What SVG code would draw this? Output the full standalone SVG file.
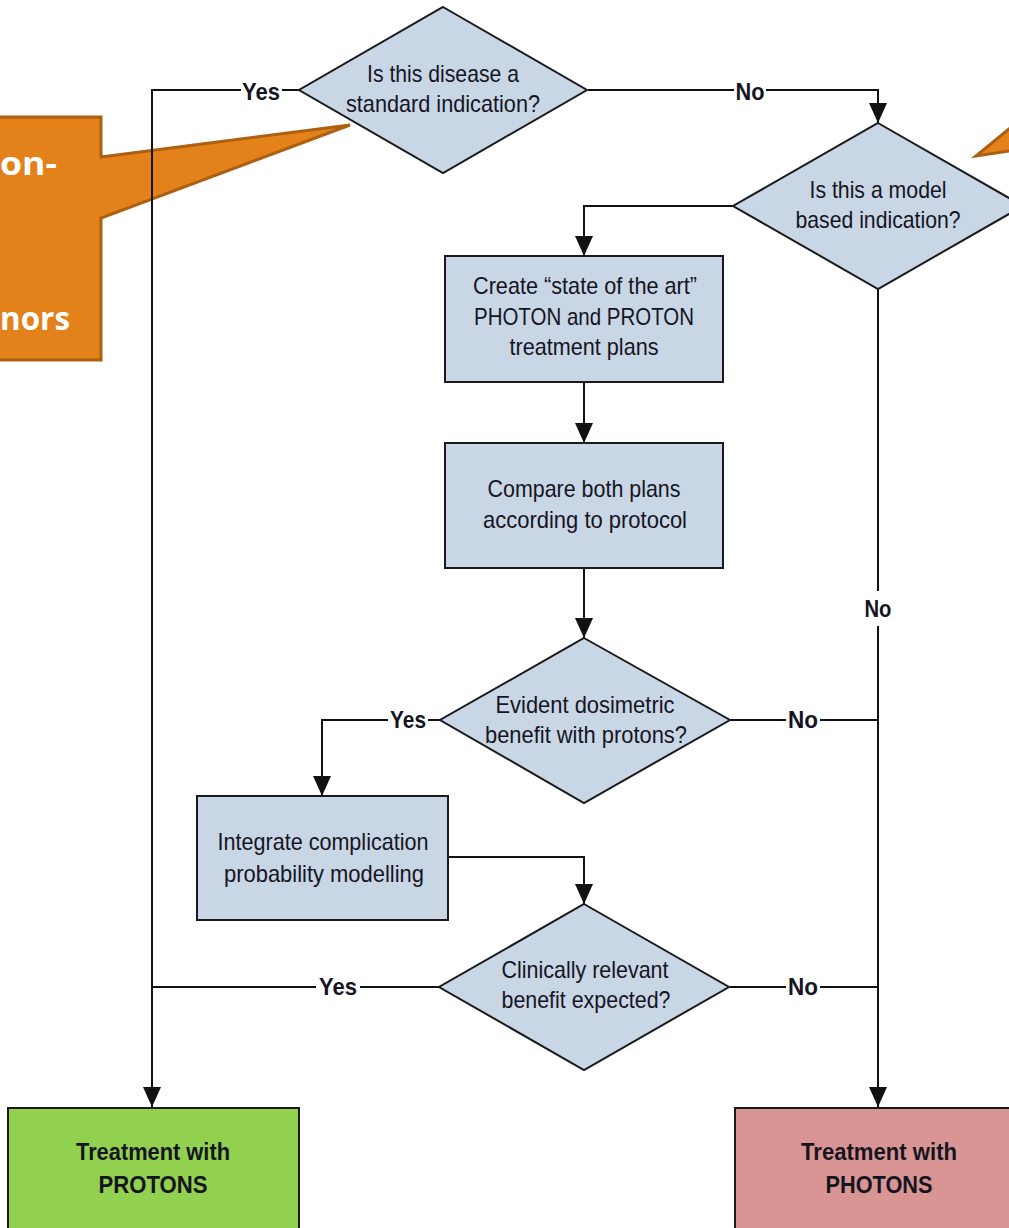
<svg xmlns="http://www.w3.org/2000/svg" width="1009" height="1228" viewBox="0 0 1009 1228">
<defs>
<marker id="arr" markerUnits="userSpaceOnUse" markerWidth="20" markerHeight="20" viewBox="0 0 20 20" refX="20" refY="10" orient="auto">
<path d="M0,1 L20,10 L0,19 z" fill="#111"/>
</marker>
<style>
.shape{fill:#c9d6e6;stroke:#1a1a1a;stroke-width:2}
.t{font-family:"Liberation Sans Narrow","Liberation Sans",Arial,sans-serif;font-size:24px;fill:#15151f;text-anchor:middle}
.b{font-weight:bold}
.line{fill:none;stroke:#111;stroke-width:2}
.arrow{marker-end:url(#arr)}
.lbl{font-family:"Liberation Sans Narrow","Liberation Sans",Arial,sans-serif;font-size:24px;font-weight:bold;fill:#15151f;text-anchor:middle}
.lb{fill:#fff}
.callout{fill:#e3811a;stroke:#ad5f12;stroke-width:3}
.ct{font-family:"Open Sans","Noto Sans",sans-serif;font-weight:bold;font-size:32px;fill:#fff}
</style>
</defs>
<rect width="1009" height="1228" fill="#fff"/>

<g id="callout-left">
<polygon class="callout" points="-5,117 101,117 101,157 350,125 101,218 101,360 -5,360"/>
<text class="ct" x="0" y="175" textLength="57" lengthAdjust="spacingAndGlyphs">on-</text>
<text class="ct" x="0" y="330" textLength="70" lengthAdjust="spacingAndGlyphs">nors</text>
</g>
<g id="callout-right">
<polygon class="callout" points="976,156 1015,124 1015,150"/>
</g>

<g id="connectors">
<path class="line arrow" d="M300,90 H152 V1107"/>
<path class="line arrow" d="M588,90 H878 V123"/>
<path class="line arrow" d="M734,206 H584 V256"/>
<path class="line arrow" d="M584,382 V443"/>
<path class="line arrow" d="M584,568 V638"/>
<path class="line arrow" d="M440,720 H322 V796"/>
<path class="line" d="M730,720 H878"/>
<path class="line arrow" d="M878,289 V1107"/>
<path class="line" d="M440,987 H152"/>
<path class="line" d="M730,987 H878"/>
<path class="line arrow" d="M448,857 H584 V904"/>
<rect class="lb" x="241" y="80" width="41" height="22"/>
<text class="lbl" x="261" y="100" textLength="38" lengthAdjust="spacingAndGlyphs">Yes</text>
<rect class="lb" x="734" y="80" width="32" height="22"/>
<text class="lbl" x="750" y="100" textLength="29" lengthAdjust="spacingAndGlyphs">No</text>
<rect class="lb" x="862" y="591" width="32" height="35"/>
<text class="lbl" x="878" y="617" textLength="27" lengthAdjust="spacingAndGlyphs">No</text>
<rect class="lb" x="388" y="709" width="40" height="22"/>
<text class="lbl" x="408" y="728" textLength="36" lengthAdjust="spacingAndGlyphs">Yes</text>
<rect class="lb" x="786" y="709" width="34" height="22"/>
<text class="lbl" x="803" y="728" textLength="30" lengthAdjust="spacingAndGlyphs">No</text>
<rect class="lb" x="316" y="976" width="44" height="22"/>
<text class="lbl" x="338" y="995" textLength="38" lengthAdjust="spacingAndGlyphs">Yes</text>
<rect class="lb" x="786" y="976" width="34" height="22"/>
<text class="lbl" x="803" y="995" textLength="30" lengthAdjust="spacingAndGlyphs">No</text>
</g>

<g id="d1">
<polygon class="shape" points="443,7 587,90 443,173 299,90"/>
<text class="t" x="443" y="82" textLength="152" lengthAdjust="spacingAndGlyphs">Is this disease a</text>
<text class="t" x="443" y="112" textLength="194" lengthAdjust="spacingAndGlyphs">standard indication?</text>
</g>

<g id="d2">
<polygon class="shape" points="878,123 1023,206 878,289 733,206"/>
<text class="t" x="878" y="198" textLength="137" lengthAdjust="spacingAndGlyphs">Is this a model</text>
<text class="t" x="878" y="228" textLength="165" lengthAdjust="spacingAndGlyphs">based indication?</text>
</g>

<g id="box1">
<rect class="shape" x="445" y="256" width="278" height="126"/>
<text class="t" x="585" y="294" textLength="224" lengthAdjust="spacingAndGlyphs">Create “state of the art”</text>
<text class="t" x="584" y="325" textLength="220" lengthAdjust="spacingAndGlyphs">PHOTON and PROTON</text>
<text class="t" x="584" y="355" textLength="149" lengthAdjust="spacingAndGlyphs">treatment plans</text>
</g>

<g id="box2">
<rect class="shape" x="445" y="443" width="278" height="125"/>
<text class="t" x="584" y="497" textLength="193" lengthAdjust="spacingAndGlyphs">Compare both plans</text>
<text class="t" x="585" y="528" textLength="204" lengthAdjust="spacingAndGlyphs">according to protocol</text>
</g>

<g id="d3">
<polygon class="shape" points="584,638 730,720 584,803 440,720"/>
<text class="t" x="585" y="713" textLength="179" lengthAdjust="spacingAndGlyphs">Evident dosimetric</text>
<text class="t" x="586" y="743" textLength="202" lengthAdjust="spacingAndGlyphs">benefit with protons?</text>
</g>

<g id="box3">
<rect class="shape" x="197" y="796" width="251" height="124"/>
<text class="t" x="323" y="850" textLength="211" lengthAdjust="spacingAndGlyphs">Integrate complication</text>
<text class="t" x="324" y="882" textLength="200" lengthAdjust="spacingAndGlyphs">probability modelling</text>
</g>

<g id="d4">
<polygon class="shape" points="584,904 729,987 584,1070 439,987"/>
<text class="t" x="585" y="978" textLength="167" lengthAdjust="spacingAndGlyphs">Clinically relevant</text>
<text class="t" x="586" y="1008" textLength="169" lengthAdjust="spacingAndGlyphs">benefit expected?</text>
</g>

<g id="protons">
<rect x="8" y="1108" width="291" height="130" fill="#92d050" stroke="#1a1a1a" stroke-width="2"/>
<text class="t b" x="153" y="1160" textLength="154" lengthAdjust="spacingAndGlyphs">Treatment with</text>
<text class="t b" x="153" y="1193" textLength="109" lengthAdjust="spacingAndGlyphs">PROTONS</text>
</g>

<g id="photons">
<rect x="735" y="1108" width="290" height="130" fill="#d99594" stroke="#1a1a1a" stroke-width="2"/>
<text class="t b" x="879" y="1160" textLength="156" lengthAdjust="spacingAndGlyphs">Treatment with</text>
<text class="t b" x="879" y="1193" textLength="107" lengthAdjust="spacingAndGlyphs">PHOTONS</text>
</g>
</svg>
